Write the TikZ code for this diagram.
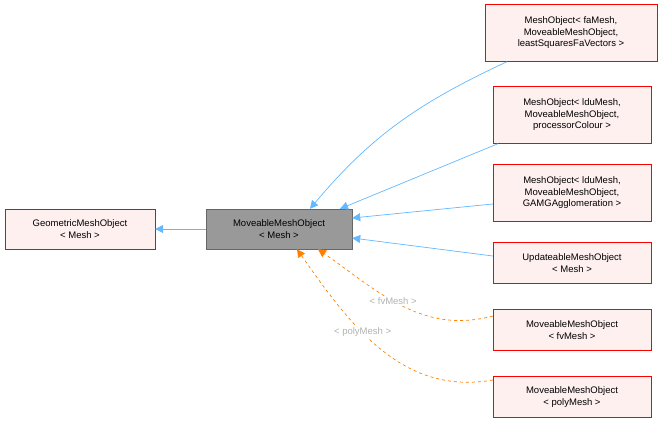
\documentclass[tikz,border=0pt]{standalone}
\usepackage{fontspec}
\setmainfont{Liberation Sans}
\usetikzlibrary{arrows.meta,positioning}

\begin{document}
\begin{tikzpicture}[x=1pt,y=-1pt,>={Triangle[length=8pt,width=8pt]},
            font=\fontsize{9.5}{11.5}\selectfont,
            every node/.style={align=center,inner sep=1pt},
            cls/.style={draw=red,fill=red!6,minimum width=158pt,minimum height=41pt},
            base/.style={draw=red,fill=red!6,minimum width=150pt,minimum height=40pt},
            cur/.style={draw=black!60,fill=black!40,minimum width=146pt,minimum height=40pt},
            inh/.style={->,line width=0.7pt,draw={rgb,255:red,99;green,184;blue,255}},
            tpl/.style={->,line width=0.7pt,dashed,draw=orange},
            lbl/.style={text=black!30,fill=white}]
            \useasboundingbox (0,0) rectangle (663,422);
            \node[base] (geo) at (80,229) {GeometricMeshObject\\< Mesh >};
            \node[cur] (mov) at (279,229) {MoveableMeshObject\\< Mesh >};
            \node[cls,minimum width=172pt,minimum height=57pt] (faM) at (571,33) {MeshObject< faMesh,\\MoveableMeshObject,\\leastSquaresFaVectors >};
            \node[cls,minimum height=57pt] (proc) at (572,115) {MeshObject< lduMesh,\\MoveableMeshObject,\\processorColour >};
            \node[cls,minimum height=57pt] (gamg) at (572,193) {MeshObject< lduMesh,\\MoveableMeshObject,\\GAMGAgglomeration >};
            \node[cls] (upd) at (572,263) {UpdateableMeshObject\\< Mesh >};
            \node[cls] (fvM) at (572,330) {MoveableMeshObject\\< fvMesh >};
            \node[cls] (polyM) at (572,397) {MoveableMeshObject\\< polyMesh >};

            % inheritance
            \draw[inh] (mov) -- (geo);
            \draw[inh] ([xshift=-64pt]faM.south) to[out=205,in=50] ([xshift=31pt]mov.north);
            \draw[inh] ([xshift=-74pt]proc.south) -- ([xshift=61pt]mov.north);
            \draw[inh] ([yshift=-11pt]gamg.west) -- ([yshift=11pt]mov.east);
            \draw[inh] ([yshift=7pt]upd.west) -- ([yshift=-9pt]mov.east);

            % template instances
            \draw[tpl] ([yshift=14pt]fvM.west) to[out=195,in=-35] node[lbl,pos=0.55] {< fvMesh >} ([xshift=39pt]mov.south);
            \draw[tpl] ([yshift=17pt]polyM.west) to[out=190,in=-55] node[lbl,pos=0.6] {< polyMesh >} ([xshift=18pt]mov.south);
\end{tikzpicture}
\end{document}
